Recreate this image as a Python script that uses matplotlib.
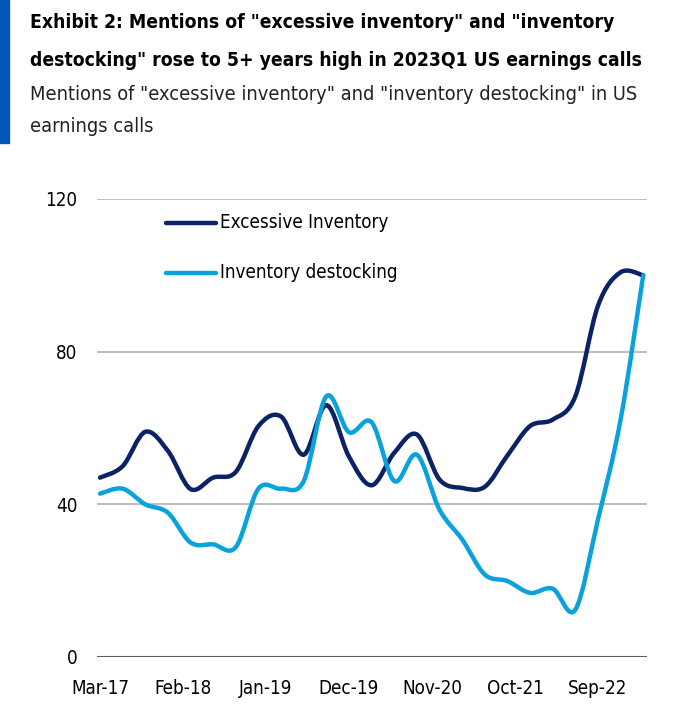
import numpy as np
import matplotlib.pyplot as plt
from matplotlib.path import Path
from matplotlib.patches import PathPatch, Rectangle
from matplotlib.lines import Line2D

# quarterly readings, Mar-17 .. Mar-23 (x in months since Mar-17)
months = np.arange(0, 73, 3)
excessive = [47, 50, 59, 54, 44, 47, 48.5, 60.5, 63, 53, 66, 52.5, 45, 53.5, 58.3, 46.5,
             44.3, 44.6, 52.8, 60.5, 62.2, 68.3, 92, 100.8, 100]
destocking = [42.8, 44.1, 40, 37.8, 30, 29.5, 28.8, 44.1, 44.1, 46.1, 68.3, 58.9, 61.5, 46.1,
              53, 38.6, 30.8, 21.6, 19.9, 16.8, 17.9, 12.4, 36, 62.2, 100]
tick_months = [0, 11, 22, 33, 44, 55, 66]
tick_labels = ['Mar-17', 'Feb-18', 'Jan-19', 'Dec-19', 'Nov-20', 'Oct-21', 'Sep-22']

navy = '#0b2265'
light = '#0aa2dc'
fam = ['DejaVu Sans']
plt.rcParams['font.stretch'] = 'condensed'


def smooth_path(x, y):
    # Catmull-Rom style bezier through the points, like a smoothed Excel line
    x = np.asarray(x, float)
    y = np.asarray(y, float)
    verts = [(x[0], y[0])]
    codes = [Path.MOVETO]
    n = len(x)
    for i in range(n - 1):
        x0, y0 = (x[i - 1], y[i - 1]) if i > 0 else (x[i], y[i])
        x3, y3 = (x[i + 2], y[i + 2]) if i + 2 < n else (x[i + 1], y[i + 1])
        c1 = (x[i] + (x[i + 1] - x0) / 6, y[i] + (y[i + 1] - y0) / 6)
        c2 = (x[i + 1] - (x3 - x[i]) / 6, y[i + 1] - (y3 - y[i]) / 6)
        verts += [c1, c2, (x[i + 1], y[i + 1])]
        codes += [Path.CURVE4] * 3
    return Path(verts, codes)


fig = plt.figure(figsize=(6.96, 7.26), dpi=100)
ax = fig.add_axes([97 / 696, 1 - 657 / 726, 550 / 696, 458 / 726])

for v in [40, 80, 120]:
    ax.axhline(v, color='#bfbfbf', lw=1.5, zorder=1)
ax.axhline(0, color='#595959', lw=1.5, zorder=1)

for ys, col in [(excessive, navy), (destocking, light)]:
    ax.add_patch(PathPatch(smooth_path(months, ys), facecolor='none', edgecolor=col,
                           lw=3.2, capstyle='round', joinstyle='round', zorder=3, clip_on=False))

ax.set_xlim(-0.4, 72.5)
ax.set_ylim(0, 120)
ax.set_yticks([0, 40, 80, 120])
ax.set_xticks(tick_months)
ax.set_xticklabels(tick_labels)
for s in ax.spines.values():
    s.set_visible(False)
ax.tick_params(length=0, labelsize=13.5)
ax.tick_params(axis='x', pad=16)
ax.tick_params(axis='y', pad=14)
for lab in ax.get_xticklabels() + ax.get_yticklabels():
    lab.set_family(fam)
    lab.set_stretch('condensed')

# legend drawn by hand at its place
for yy, col, txt in [(222.7, navy, 'Excessive Inventory'), (272.7, light, 'Inventory destocking')]:
    fy = 1 - yy / 726
    fig.add_artist(Line2D([166 / 696, 216 / 696], [fy, fy], color=col, lw=3.2,
                          solid_capstyle='round'))
    fig.text(220 / 696, fy, txt, va='center', ha='left', fontsize=13.5, family=fam,
             stretch='condensed')

# header
fig.add_artist(Rectangle((0, 1 - 143 / 726), 9 / 696, 143 / 726, color='#0057b8',
                         transform=fig.transFigure))
fig.text(30 / 696, 1 - 22 / 726, 'Exhibit 2: Mentions of "excessive inventory" and "inventory',
         va='center', ha='left', fontsize=13.9, weight='bold', family=fam, stretch='condensed')
fig.text(30 / 696, 1 - 60 / 726, 'destocking" rose to 5+ years high in 2023Q1 US earnings calls',
         va='center', ha='left', fontsize=13.9, weight='bold', family=fam, stretch='condensed')
fig.text(30 / 696, 1 - 95 / 726, 'Mentions of "excessive inventory" and "inventory destocking" in US',
         va='center', ha='left', fontsize=14.3, family=fam, stretch='condensed', color='#222222')
fig.text(30 / 696, 1 - 126 / 726, 'earnings calls',
         va='center', ha='left', fontsize=14.3, family=fam, stretch='condensed', color='#222222')

fig.savefig('out.png', dpi=100)
